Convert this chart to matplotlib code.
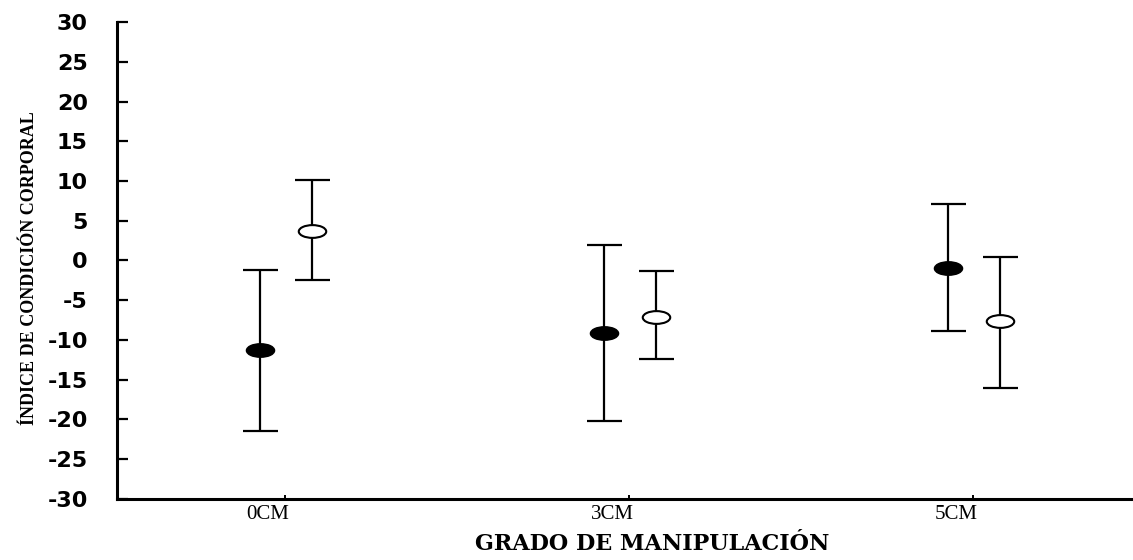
import matplotlib
matplotlib.use("Agg")
import matplotlib.pyplot as plt
from matplotlib.markers import MarkerStyle
from matplotlib.transforms import Affine2D

categories = ["0CM", "3CM", "5CM"]
filled_mean = [-11.3, -9.1, -0.9]
filled_upper = [-1.2, 2.0, 7.1]
filled_lower = [-21.5, -20.2, -8.9]
open_mean = [3.7, -7.1, -7.6]
open_upper = [10.1, -1.3, 0.4]
open_lower = [-2.5, -12.4, -16.1]
yticks = list(range(-30, 31, 5))

fig = plt.figure(figsize=(11.33, 5.6), dpi=100)
ax = fig.add_axes([0.1033, 0.109, 0.8967, 0.8517])

xs = list(range(len(categories)))
ell = MarkerStyle("o", transform=Affine2D().scale(2.15, 1.0))

def draw(offset, mean, lo, hi, face):
    x = [v + offset for v in xs]
    yerr = [[m - l for m, l in zip(mean, lo)], [h - m for m, h in zip(mean, hi)]]
    ax.errorbar(x, mean, yerr=yerr, fmt="none", ecolor="black",
                elinewidth=1.6, capsize=12.6, capthick=1.6, zorder=2)
    ax.plot(x, mean, linestyle="none", marker=ell, markersize=9.2,
            markerfacecolor=face, markeredgecolor="black",
            markeredgewidth=1.5, zorder=3)

draw(-0.073, filled_mean, filled_lower, filled_upper, "black")
draw(0.078, open_mean, open_lower, open_upper, "white")

ax.set_xlim(-0.488, 2.465)
ax.set_ylim(-30, 30)
ax.set_yticks(yticks)
ax.set_yticklabels([str(t) for t in yticks], family="DejaVu Sans",
                   fontweight="bold", fontsize=16)
ax.set_xticks(xs)
ax.set_xticklabels([])
for x, c in zip(xs, categories):
    ax.text(x - 0.049, -0.0325, c, transform=ax.get_xaxis_transform(),
            ha="center", va="center", family="Liberation Serif", fontsize=15)

ax.tick_params(axis="y", direction="in", length=8, width=1.6, pad=21, colors="black")
ax.tick_params(axis="x", direction="in", length=3, width=1.4, pad=7, colors="black")

for s in ["top", "right"]:
    ax.spines[s].set_visible(False)
for s in ["left", "bottom"]:
    ax.spines[s].set_linewidth(2.2)

fig.text(652 / 1133, 1 - 544 / 560, "GRADO DE MANIPULACIÓN", ha="center", va="center",
         family="DejaVu Serif", fontweight="bold", fontsize=16)
fig.text(30 / 1133, 1 - 268 / 560, "ÍNDICE DE CONDICIÓN CORPORAL", ha="center", va="center",
         rotation=90, family="Liberation Serif", fontweight="bold", fontsize=13)

fig.savefig("out.png", dpi=100)
